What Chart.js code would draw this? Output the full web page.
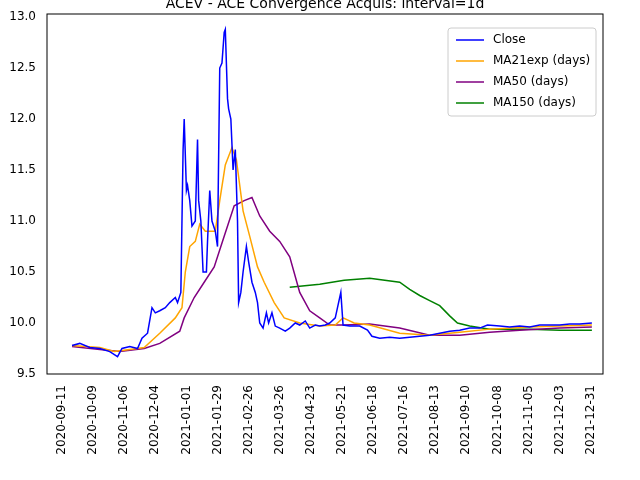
<!DOCTYPE html>
<html><head><script src="https://cdn.jsdelivr.net/npm/chart.js@4"></script>
<style>body{margin:0;background:#fff}#w{width:640px;height:480px}</style></head>
<body><div id="w"><canvas id="c"></canvas></div>
<script>
const BASE = Date.UTC(2020,8,11);
const closeDays = [9,16,25,34,43,50,54,61,68,72,77,81,84,88,93,97,102,104,107,109,110,112,113,115,117,120,122,123,125,127,130,131,133,135,138,140,142,144,146,147,149,150,152,154,156,158,159,161,163,166,168,171,174,176,178,181,184,186,189,192,196,201,205,210,214,219,223,228,232,237,241,246,248,251,253,259,268,275,279,286,295,304,313,322,331,340,349,358,367,376,383,394,403,412,421,430,439,448,457,466,477];
const closeVals = [9.78,9.80,9.76,9.75,9.72,9.67,9.75,9.77,9.75,9.85,9.90,10.15,10.1,10.12,10.15,10.2,10.25,10.2,10.3,11.7,12.0,11.3,11.35,11.2,10.95,11.0,11.8,11.2,11.0,10.5,10.5,10.8,11.3,11.0,10.9,10.75,12.5,12.55,12.85,12.88,12.2,12.1,12.0,11.5,11.7,11.0,10.2,10.3,10.5,10.75,10.6,10.4,10.3,10.2,10.0,9.95,10.1,10.0,10.1,9.97,9.95,9.92,9.95,10.0,9.98,10.02,9.95,9.98,9.97,9.98,10.0,10.05,10.15,10.3,9.98,9.97,9.97,9.93,9.87,9.85,9.86,9.85,9.86,9.87,9.88,9.9,9.92,9.93,9.95,9.95,9.98,9.97,9.96,9.97,9.96,9.98,9.98,9.98,9.99,9.99,10.0];
const ma21Days = [9,34,47,61,74,88,102,108,111,115,120,124,129,133,138,142,147,153,157,163,169,176,182,191,200,214,232,246,253,263,277,304,331,358,385,421,448,477];
const ma21Vals = [9.78,9.76,9.72,9.74,9.76,9.9,10.05,10.15,10.5,10.75,10.8,10.97,10.9,10.9,10.9,11.2,11.55,11.72,11.6,11.1,10.85,10.55,10.4,10.2,10.05,10.0,9.97,9.98,10.05,10.0,9.98,9.9,9.88,9.91,9.94,9.96,9.97,9.98];
const ma50Days = [9,34,52,74,88,106,110,119,128,137,146,155,164,171,178,187,196,205,214,223,232,241,254,277,304,331,358,385,412,448,477];
const ma50Vals = [9.77,9.74,9.72,9.75,9.8,9.92,10.05,10.25,10.4,10.55,10.85,11.15,11.2,11.23,11.05,10.9,10.8,10.65,10.3,10.12,10.05,9.98,9.98,9.99,9.95,9.88,9.88,9.91,9.93,9.95,9.96];
const ma150Days = [205,232,254,277,304,313,322,331,340,349,356,367,385,421,448,477];
const ma150Vals = [10.35,10.38,10.42,10.44,10.4,10.33,10.27,10.22,10.17,10.07,10.0,9.97,9.94,9.94,9.93,9.93];
const tickDays = [0,28,56,84,112,140,168,196,224,252,280,308,336,364,392,420,448,476];
const yTicks = [9.5,10.0,10.5,11.0,11.5,12.0,12.5,13.0];

const pts = (d,v)=>d.map((x,i)=>({x, y:v[i]}));
const fmt = d => new Date(BASE + d*86400000).toISOString().slice(0,10);
const series = [
 {label:'Close', data:pts(closeDays,closeVals), borderColor:'#0000ff'},
 {label:'MA21exp (days)', data:pts(ma21Days,ma21Vals), borderColor:'#ffa500'},
 {label:'MA50 (days)', data:pts(ma50Days,ma50Vals), borderColor:'#800080'},
 {label:'MA150 (days)', data:pts(ma150Days,ma150Vals), borderColor:'#008000'}
].map(s=>({...s, borderWidth:1.5, pointRadius:0, tension:0, fill:false}));

const deco = {id:'deco', afterDraw(c){
  const g=c.ctx, a=c.chartArea;
  g.save();
  g.strokeStyle='#000'; g.lineWidth=1; g.strokeRect(a.left,a.top,a.right-a.left,a.bottom-a.top);
  g.fillStyle='#000'; g.font='14px "DejaVu Sans"'; g.textAlign='center'; g.textBaseline='bottom';
  g.fillText('ACEV - ACE Convergence Acquis: interval=1d',(a.left+a.right)/2,a.top-3);
  // legend
  const lx=448, ly=28, lw=148, lh=88;
  g.fillStyle='rgba(255,255,255,0.8)'; g.strokeStyle='#ccc';
  g.beginPath(); g.roundRect(lx,ly,lw,lh,3); g.fill(); g.stroke();
  g.font='12px "DejaVu Sans"'; g.textAlign='left'; g.textBaseline='middle';
  series.forEach((s,i)=>{const y=ly+12+i*21; g.strokeStyle=s.borderColor; g.lineWidth=1.5;
    g.beginPath(); g.moveTo(lx+8,y); g.lineTo(lx+36,y); g.stroke(); g.fillStyle='#000'; g.fillText(s.label,lx+45,y);});
  g.restore();
}};
new Chart(document.getElementById('c'),{type:'line',data:{datasets:series},plugins:[deco],
 options:{responsive:true,maintainAspectRatio:false,animation:false,
  layout:{padding:{top:14,right:37,left:0,bottom:0}},
  plugins:{legend:{display:false},tooltip:{enabled:false}},
  scales:{
   x:{type:'linear',min:-13.5,max:487,grid:{display:false},border:{display:false},
      afterBuildTicks:ax=>{ax.ticks=tickDays.map(v=>({value:v}));},
      afterFit:ax=>{ax.height=106;},
      ticks:{autoSkip:false,maxRotation:90,minRotation:90,color:'#000',font:{family:'DejaVu Sans',size:12},callback:v=>fmt(v)}},
   y:{min:9.5,max:13.03,grid:{display:false},border:{display:false},
      afterBuildTicks:ax=>{ax.ticks=yTicks.map(v=>({value:v}));},
      afterFit:ax=>{ax.width=47;},
      ticks:{color:'#000',font:{family:'DejaVu Sans',size:12},callback:v=>v.toFixed(1)}}
  }}});
</script></body></html>
